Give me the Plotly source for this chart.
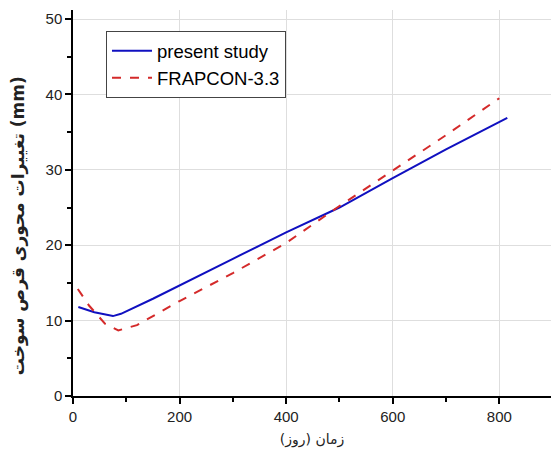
import plotly.graph_objects as go

present_x = [10, 40, 75, 90, 150, 200, 300, 400, 500, 600, 700, 815]
present_y = [11.8, 11.1, 10.6, 10.9, 12.9, 14.7, 18.2, 21.7, 25.0, 28.9, 32.7, 36.9]

frapcon_x = [9, 30, 60, 85, 120, 200, 300, 400, 500, 600, 700, 800]
frapcon_y = [14.2, 12.0, 9.6, 8.7, 9.4, 12.6, 16.3, 20.3, 25.2, 29.9, 34.6, 39.5]

x_ticks = [0, 200, 400, 600, 800]
y_ticks = [0, 10, 20, 30, 40, 50]

fig = go.Figure()
fig.add_trace(go.Scatter(x=present_x, y=present_y, mode="lines", name="present study",
                         line=dict(color="#1010c0", width=2)))
fig.add_trace(go.Scatter(x=frapcon_x, y=frapcon_y, mode="lines", name="FRAPCON-3.3",
                         line=dict(color="#d42a2a", width=2, dash="dash")))

axis_common = dict(showline=True, linecolor="black", linewidth=1.5,
                   showgrid=True, gridcolor="#dedede", gridwidth=1,
                   ticks="outside", ticklen=6, tickwidth=1.5, tickcolor="black",
                   tickfont=dict(family="Liberation Sans, Arial", size=15, color="#222"),
                   zeroline=False, automargin=False)

fig.update_layout(
    width=551, height=459,
    margin=dict(l=73, r=0, t=10, b=63),
    paper_bgcolor="white", plot_bgcolor="white",
    showlegend=True,
    legend=dict(x=0.069, y=0.945, xanchor="left", yanchor="top",
                bgcolor="white", bordercolor="#444", borderwidth=1,
                font=dict(family="Liberation Sans, Arial", size=18.5, color="black"),
                tracegroupgap=0, itemwidth=40),
    xaxis=dict(range=[0, 897], tickvals=x_ticks,
               minor=dict(tickvals=[100, 300, 500, 700, 900], ticks="outside", ticklen=4,
                          tickwidth=1.5, tickcolor="black", showgrid=False),
               title=dict(text="زمان (روز)", font=dict(family="DejaVu Sans", size=14, color="#222"),
                          standoff=10),
               **axis_common),
    yaxis=dict(range=[0, 51.2], tickvals=y_ticks,
               minor=dict(tickvals=[5, 15, 25, 35, 45], ticks="outside", ticklen=4,
                          tickwidth=1.5, tickcolor="black", showgrid=False),
               **axis_common),
    annotations=[dict(text="<b>تغییرات محوری قرص سوخت (mm)</b>", textangle=-90,
                      xref="paper", yref="paper", x=-0.115, y=0.44,
                      xanchor="center", yanchor="middle", showarrow=False,
                      font=dict(family="DejaVu Sans", size=17, color="#222"))],
)

fig.write_html("out.html", config={"displayModeBar": False},
               post_script="document.body.style.margin='0';document.body.style.overflow='hidden';")
